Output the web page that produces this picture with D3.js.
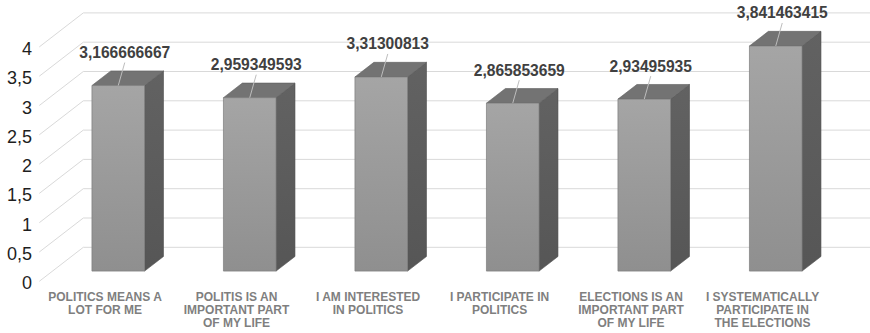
<!DOCTYPE html>
<html>
<head>
<meta charset="utf-8">
<script src="https://cdn.jsdelivr.net/npm/d3@7"></script>
<style>
  html, body { margin: 0; padding: 0; background: #fff; }
  svg { display: block; font-family: "Liberation Sans", Arial, sans-serif; }
</style>
</head>
<body>
<svg id="chart" width="870" height="333"></svg>
<script>
// Survey means per statement
const categories = [
  "POLITICS MEANS A\nLOT FOR ME",
  "POLITIS IS AN\nIMPORTANT PART\nOF MY LIFE",
  "I AM INTERESTED\nIN POLITICS",
  "I PARTICIPATE IN\nPOLITICS",
  "ELECTIONS IS AN\nIMPORTANT PART\nOF MY LIFE",
  "I SYSTEMATICALLY\nPARTICIPATE IN\nTHE ELECTIONS"
];
const values = [3.166666667, 2.959349593, 3.31300813, 2.865853659, 2.93495935, 3.841463415];
const valueLabels = ["3,166666667", "2,959349593", "3,31300813", "2,865853659", "2,93495935", "3,841463415"];
const yTicks = [0, 0.5, 1, 1.5, 2, 2.5, 3, 3.5, 4];
const yTickLabels = ["0", "0,5", "1", "1,5", "2", "2,5", "3", "3,5", "4"];

const svg = d3.select("#chart");

// Oblique 3D projection: depth 0 = front plane, depth 1 = back wall
const DEPTH_DX = 44, DEPTH_DY = -34;
const proj = (x, y, d) => [x + DEPTH_DX * d, y + DEPTH_DY * d];

const x = d3.scaleBand()
  .domain(d3.range(categories.length))
  .range([39.3, 828.3])
  .paddingInner(0.6)
  .paddingOuter(0.3);

const y = d3.scaleLinear().domain([0, 4]).range([281.3, 46.9]);

const [xL, xR] = x.range();

// Gridlines on the back wall and side wall
const grid = svg.append("g").attr("stroke", "#d9d9d9").attr("stroke-width", 1).attr("fill", "none");
yTicks.forEach(t => {
  const a = proj(xL, y(t), 0), b = proj(xL, y(t), 1), c = proj(xR, y(t), 1);
  grid.append("path").attr("d", `M${a[0]},${a[1]}L${b[0]},${b[1]}L${c[0]},${c[1]}`);
});

// Y axis tick labels
svg.append("g")
  .selectAll("text")
  .data(yTicks)
  .join("text")
  .attr("x", 32)
  .attr("y", d => y(d) + 2)
  .attr("text-anchor", "end")
  .attr("dominant-baseline", "central")
  .attr("font-size", 18)
  .attr("fill", "#1e1e1e")
  .text((d, i) => yTickLabels[i]);

// Gradients for bar faces
const defs = svg.append("defs");
const gFront = defs.append("linearGradient").attr("id", "front").attr("x1", 0).attr("y1", 0).attr("x2", 0).attr("y2", 1);
gFront.append("stop").attr("offset", "0%").attr("stop-color", "#a5a5a5");
gFront.append("stop").attr("offset", "100%").attr("stop-color", "#8f8f8f");
const gSide = defs.append("linearGradient").attr("id", "side").attr("x1", 0).attr("y1", 0).attr("x2", 0).attr("y2", 1);
gSide.append("stop").attr("offset", "0%").attr("stop-color", "#626262");
gSide.append("stop").attr("offset", "100%").attr("stop-color", "#565656");

// Bars sit between these depths
const D1 = 0.3, D2 = 0.73;
const bars = svg.append("g");
values.forEach((v, i) => {
  const x0 = x(i), x1 = x(i) + x.bandwidth();
  const fTL = proj(x0, y(v), D1), fTR = proj(x1, y(v), D1);
  const fBL = proj(x0, y(0), D1), fBR = proj(x1, y(0), D1);
  const bTL = proj(x0, y(v), D2), bTR = proj(x1, y(v), D2), bBR = proj(x1, y(0), D2);
  const poly = pts => "M" + pts.map(p => p.join(",")).join("L") + "Z";
  bars.append("path").attr("d", poly([fTR, bTR, bBR, fBR])).attr("fill", "url(#side)")
    .attr("stroke", "#4e4e4e").attr("stroke-width", 0.6);
  bars.append("path").attr("d", poly([fTL, bTL, bTR, fTR])).attr("fill", "#737373")
    .attr("stroke", "#5e5e5e").attr("stroke-width", 0.6);
  bars.append("path").attr("d", poly([fTL, fTR, fBR, fBL])).attr("fill", "url(#front)")
    .attr("stroke", "#7c7c7c").attr("stroke-width", 0.7);
});

// Value labels with leader lines
const labels = svg.append("g");
values.forEach((v, i) => {
  const top = proj(x(i) + x.bandwidth() / 2, y(v), D1);
  const lx = top[0] + 6.5, ly = top[1] - 33;
  labels.append("line")
    .attr("x1", lx).attr("y1", ly + 10)
    .attr("x2", top[0]).attr("y2", top[1])
    .attr("stroke", "#bdbdbd").attr("stroke-width", 1);
  labels.append("text")
    .attr("x", lx).attr("y", ly)
    .attr("text-anchor", "middle")
    .attr("dominant-baseline", "central")
    .attr("font-size", 15.6)
    .attr("font-weight", "bold")
    .attr("fill", "#404040")
    .text(valueLabels[i]);
});

// Category labels along the front edge of the floor
const cats = svg.append("g");
categories.forEach((c, i) => {
  const cx = x(i) + x.bandwidth() / 2;
  const t = cats.append("text")
    .attr("text-anchor", "middle")
    .attr("font-size", 12)
    .attr("font-weight", "bold")
    .attr("fill", "#7f7f7f");
  c.split("\n").forEach((line, j) => {
    t.append("tspan").attr("x", cx).attr("y", 300.8 + j * 13.3).text(line);
  });
});
</script>
</body>
</html>
